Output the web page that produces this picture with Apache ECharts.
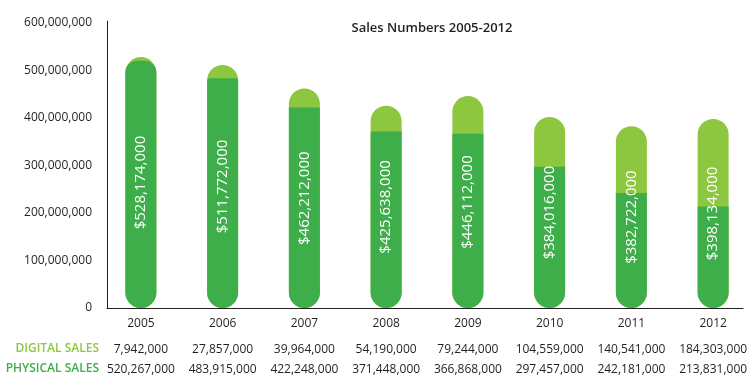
<!DOCTYPE html>
<html>
<head>
<meta charset="utf-8">
<script src="https://cdn.jsdelivr.net/npm/echarts@6/dist/echarts.min.js"></script>
<style>
html,body{margin:0;padding:0;background:#fff;}
#c{width:754px;height:383px;}
</style>
</head>
<body>
<div id="c"></div>
<script>
var years = ['2005','2006','2007','2008','2009','2010','2011','2012'];
var digitalSales = [7942000, 27857000, 39964000, 54190000, 79244000, 104559000, 140541000, 184303000];
var physicalSales = [520267000, 483915000, 422248000, 371448000, 366868000, 297457000, 242181000, 213831000];
var totalLabels = [528174000, 511772000, 462212000, 425638000, 446112000, 384016000, 382722000, 398134000];
var yTicks = [0, 100000000, 200000000, 300000000, 400000000, 500000000, 600000000];

var DARK = '#3dae49';
var LIGHT = '#8dc63f';
var TXT = '#231f20';
var FONT = '"Open Sans", "Noto Sans", sans-serif';
var R = 15.5;
var PX_PER_UNIT = 285 / 600000000;

function fmt(v){ return v.toString().replace(/\B(?=(\d{3})+(?!\d))/g, ','); }

var sums = physicalSales.map(function(p, i){ return p + digitalSales[i]; });

var physData = physicalSales.map(function(p, i){
  var dpx = digitalSales[i] * PX_PER_UNIT;
  var rt = Math.max(0, R - dpx);
  return { value: p, itemStyle: { borderRadius: [rt, rt, R, R] } };
});

var labelStyle = { margin: 10, interval: 0, fontFamily: FONT, fontSize: 12, color: TXT };

var chart = echarts.init(document.getElementById('c'));
chart.setOption({
  animation: false,
  backgroundColor: '#fff',
  title: {
    text: 'Sales Numbers 2005-2012',
    left: 427, top: 17, textAlign: 'center',
    textStyle: { fontFamily: FONT, fontSize: 13, fontWeight: 600, color: TXT }
  },
  grid: [
    { left: 100, width: 656, top: 23, height: 285 },
    { left: 107, width: 636, top: 21, height: 287 }
  ],
  xAxis: [
    { type: 'category', gridIndex: 0, data: years,
      axisLine: { show: false }, axisTick: { show: false }, axisLabel: labelStyle },
    { type: 'category', gridIndex: 0, position: 'bottom', offset: 26,
      data: digitalSales.map(fmt),
      axisLine: { show: false }, axisTick: { show: false }, axisLabel: labelStyle },
    { type: 'category', gridIndex: 0, position: 'bottom', offset: 46,
      data: physicalSales.map(fmt),
      axisLine: { show: false }, axisTick: { show: false }, axisLabel: labelStyle },
    { type: 'value', gridIndex: 1, min: 0, max: 1,
      axisLine: { show: true, lineStyle: { color: TXT, width: 1 } },
      axisTick: { show: false }, axisLabel: { show: false }, splitLine: { show: false } }
  ],
  yAxis: [
    { type: 'value', gridIndex: 0, min: 0, max: 600000000, interval: 100000000,
      axisLine: { show: false }, axisTick: { show: false }, splitLine: { show: false },
      axisLabel: { margin: 8, fontFamily: FONT, fontSize: 12, color: TXT,
        formatter: function(v){ return fmt(v); } } },
    { type: 'value', gridIndex: 1, min: 0, max: 1,
      axisLine: { show: true, lineStyle: { color: TXT, width: 1 } },
      axisTick: { show: false }, axisLabel: { show: false }, splitLine: { show: false } }
  ],
  graphic: [
    { type: 'text', x: 99, y: 349, style: { text: 'DIGITAL SALES', align: 'right', verticalAlign: 'middle',
      fill: LIGHT, font: '600 12px "Open Sans", "Noto Sans", sans-serif' } },
    { type: 'text', x: 99, y: 369, style: { text: 'PHYSICAL SALES', align: 'right', verticalAlign: 'middle',
      fill: DARK, font: '600 12px "Open Sans", "Noto Sans", sans-serif' } }
  ],
  series: [
    { type: 'bar', xAxisIndex: 0, yAxisIndex: 0, barWidth: 31, barGap: '-100%', z: 2,
      data: sums, itemStyle: { color: LIGHT, borderRadius: R } },
    { type: 'bar', xAxisIndex: 0, yAxisIndex: 0, barWidth: 31, barGap: '-100%', z: 3,
      data: physData, itemStyle: { color: DARK } },
    { type: 'bar', xAxisIndex: 0, yAxisIndex: 0, barWidth: 31, barGap: '-100%', z: 4,
      data: sums, itemStyle: { color: 'rgba(0,0,0,0)' },
      label: { show: true, position: 'inside', rotate: 90, color: '#fff',
        fontFamily: FONT, fontSize: 15,
        formatter: function(p){ return '$' + fmt(totalLabels[p.dataIndex]); } } }
  ]
});
</script>
</body>
</html>
